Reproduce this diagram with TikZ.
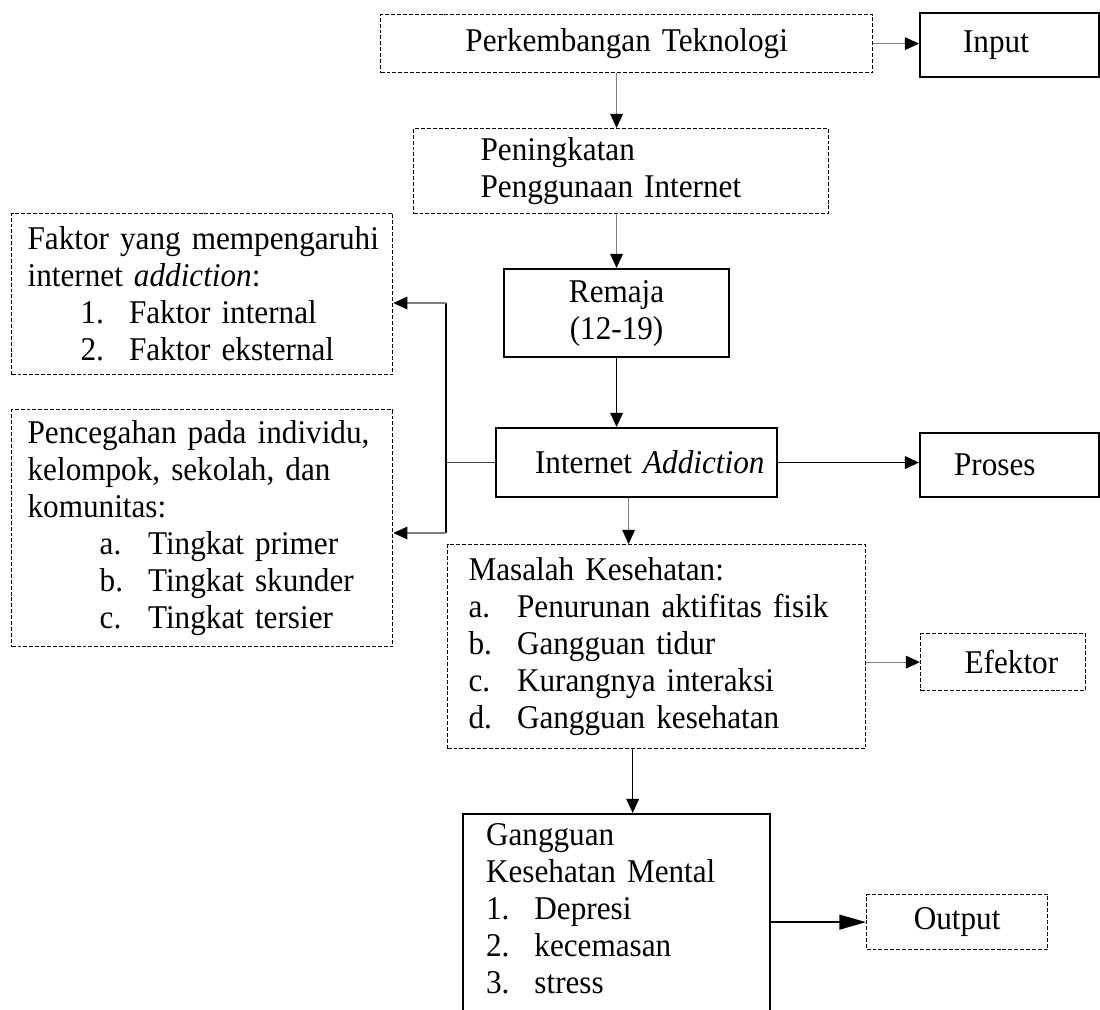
\documentclass[tikz,border=0pt]{standalone}
\usepackage{fontspec}
\setmainfont{Liberation Serif}[FakeStretch=0.94, WordSpace=0.85]
\usetikzlibrary{arrows.meta}
\definecolor{linegray}{HTML}{7F7F7F}
\newcommand{\butir}[3][0cm]{\hspace*{#1}\makebox[1.21cm][l]{#2}#3}

\begin{document}
\begin{tikzpicture}[x=0.025cm, y=-0.025cm,
        box/.style={anchor=north west, align=left, inner ysep=0pt, font=\fontsize{23.6}{26.3}\selectfont},
        dbox/.style={box, draw, line width=0.9pt, dash pattern=on 2.8pt off 1.4pt},
        sbox/.style={box, draw, line width=1.5pt},
        headed/.style={-{Triangle[length=10pt, width=9pt, color=black]}},
        garr/.style={headed, draw=linegray, line width=0.8pt},
        barr/.style={headed, line width=0.8pt},
        harr/.style={headed, line width=1.2pt},
        oarr/.style={-{Triangle[length=19pt, width=10.6pt]}, line width=1.2pt}]

        \useasboundingbox (0,0) rectangle (1100,1010);

        \node[dbox, minimum width=12.3cm, minimum height=1.45cm, text width=11.8cm, inner xsep=0.25cm, align=center] (perk) at (380,14) {Perkembangan Teknologi};
        \node[sbox, minimum width=4.475cm, minimum height=1.6cm, text width=2.325cm, inner xsep=1.075cm] (input) at (919,12) {Input};
        \node[dbox, minimum width=10.375cm, minimum height=2.125cm, text width=7.025cm, inner xsep=1.675cm] (pen) at (413,128) {Peningkatan\\Penggunaan Internet};
        \node[sbox, minimum width=5.625cm, minimum height=2.2cm, text width=5.125cm, inner xsep=0.25cm, align=center] (rem) at (503,268) {Remaja\\(12-19)};
        \node[sbox, minimum width=7.025cm, minimum height=1.725cm, text width=6.275cm, inner xsep=0.375cm] (ia) at (495,427) {\mbox{\hspace*{0.6cm}Internet \textit{Addiction}}};
        \node[sbox, minimum width=4.475cm, minimum height=1.6cm, text width=2.775cm, inner xsep=0.85cm] (proses) at (919,432) {Proses};

        \node[dbox, minimum width=9.525cm, minimum height=4.025cm, text width=8.725cm, inner xsep=0.4cm] (faktor) at (11,213)
            {\mbox{Faktor yang mempengaruhi}\\internet \textit{addiction}:\\
             \butir[1.325cm]{1.}{Faktor internal}\\
             \butir[1.325cm]{2.}{Faktor eksternal}};
        \node[dbox, minimum width=9.525cm, minimum height=5.925cm, text width=8.725cm, inner xsep=0.4cm] (cegah) at (11,409)
            {\mbox{Pencegahan pada individu,}\\kelompok, sekolah, dan\\komunitas:\\
             \butir[1.8cm]{a.}{Tingkat primer}\\
             \butir[1.8cm]{b.}{Tingkat skunder}\\
             \butir[1.8cm]{c.}{Tingkat tersier}};

        \node[dbox, minimum width=10.45cm, minimum height=5.1cm, text width=9.4cm, inner xsep=0.525cm] (masalah) at (447,544)
            {Masalah Kesehatan:\\
             \butir{a.}{Penurunan aktifitas fisik}\\
             \butir{b.}{Gangguan tidur}\\
             \butir{c.}{Kurangnya interaksi}\\
             \butir{d.}{Gangguan kesehatan}};
        \node[dbox, minimum width=4.125cm, minimum height=1.425cm, text width=2.725cm, inner xsep=0.7cm] (efektor) at (920,633) {\mbox{\hspace*{0.4cm}Efektor}};

        \node[sbox, minimum width=7.675cm, minimum height=5.65cm, text width=6.525cm, inner xsep=0.575cm] (gang) at (462,813)
            {Gangguan\\Kesehatan Mental\\
             \butir{1.}{Depresi}\\
             \butir{2.}{kecemasan}\\
             \butir{3.}{stress}\\ \mbox{}};
        \node[dbox, minimum width=4.525cm, minimum height=1.375cm, text width=4.025cm, inner xsep=0.25cm, align=center] (output) at (866,894) {Output};

        \draw[garr] (perk.east) -- (perk.east -| input.west);
        \draw[garr] (perk.south -| rem.north) -- (pen.north -| rem.north);
        \draw[garr] (pen.south -| rem.north) -- (rem.north);
        \draw[barr] (rem.south) -- (ia.north -| rem.south);
        \draw[harr] (ia.east) -- (ia.east -| proses.west);
        \draw[garr] ([xshift=-0.2cm]ia.south) -- ([xshift=-0.2cm]ia.south |- masalah.north);
        \draw[garr] (masalah.east |- efektor.west) -- (efektor.west);
        \draw[barr] ([xshift=-0.6cm]masalah.south) -- ([xshift=-0.6cm]masalah.south |- gang.north);
        \draw[oarr] (gang.east |- output.west) -- (output.west);

        \coordinate (jtop) at (446,303);
        \coordinate (jbot) at (446,533);
        \draw[black!75, line width=1.2pt] (ia.west) -- (ia.west -| jtop);
        \draw[line width=1.5pt] (jtop) -- (jbot);
        \draw[garr] (jtop) -- (jtop -| faktor.east);
        \draw[garr] (jbot) -- (jbot -| cegah.east);

    \end{tikzpicture}
\end{document}
